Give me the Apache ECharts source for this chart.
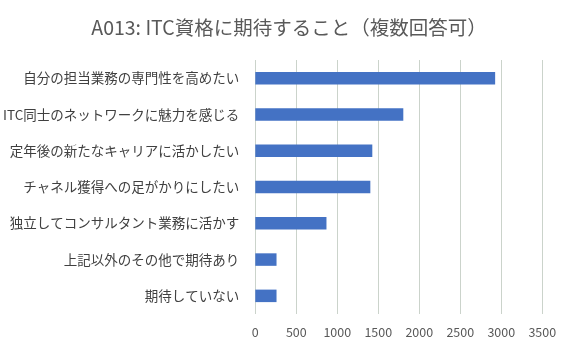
<!DOCTYPE html>
<html>
<head>
<meta charset="utf-8">
<script src="https://cdn.jsdelivr.net/npm/echarts@6/dist/echarts.min.js"></script>
<style>
  html, body { margin: 0; padding: 0; background: #fff; }
  #chart { width: 572px; height: 342px; }
</style>
</head>
<body>
<div id="chart"></div>
<script>
// Categories listed top to bottom
const categories = [
  '自分の担当業務の専門性を高めたい',
  'ITC同士のネットワークに魅力を感じる',
  '定年後の新たなキャリアに活かしたい',
  'チャネル獲得への足がかりにしたい',
  '独立してコンサルタント業務に活かす',
  '上記以外のその他で期待あり',
  '期待していない'
];
const counts = [2925, 1805, 1427, 1403, 868, 259, 259];
const xTicks = [0, 500, 1000, 1500, 2000, 2500, 3000, 3500];

const font = '"Noto Sans CJK JP", "Noto Sans", sans-serif';
const chart = echarts.init(document.getElementById('chart'));
chart.setOption({
  animation: false,
  title: {
    text: 'A013: ITC資格に期待すること（複数回答可）',
    left: 284,
    textAlign: 'center',
    top: 13,
    textStyle: { fontFamily: font, fontSize: 19.5, fontWeight: 'normal', color: '#595959' }
  },
  grid: { left: 254.7, right: 29.7, top: 60, height: 254, containLabel: false },
  xAxis: {
    type: 'value',
    min: xTicks[0],
    max: xTicks[xTicks.length - 1],
    interval: 500,
    axisLine: { show: false },
    axisTick: { show: false },
    axisLabel: {
      color: '#595959', fontSize: 12.5, fontFamily: font, margin: 12,
      formatter: v => String(v)
    },
    splitLine: { lineStyle: { color: '#cbd3cb', width: 1 } }
  },
  yAxis: {
    type: 'category',
    data: categories.slice().reverse(),
    axisLine: { show: false },
    axisTick: { show: false },
    axisLabel: { color: '#404040', fontSize: 13.5, fontFamily: font, margin: 16 }
  },
  series: [{
    type: 'bar',
    data: counts.slice().reverse(),
    barWidth: 12.5,
    itemStyle: { color: '#4472C4' }
  }]
});
</script>
</body>
</html>
